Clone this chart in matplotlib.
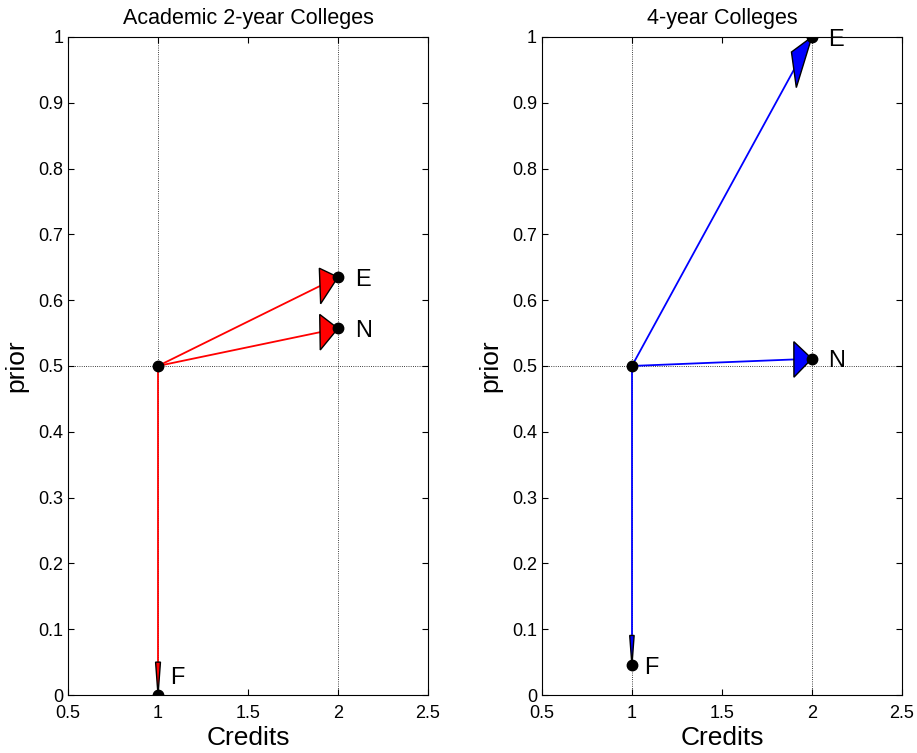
import numpy as np
import matplotlib
matplotlib.use("Agg")
import matplotlib.pyplot as plt
from matplotlib.patches import Polygon

plt.rcParams['font.family'] = ['Liberation Sans', 'DejaVu Sans']

# data
titles = ['Academic 2-year Colleges', '4-year Colleges']
colors = ['red', 'blue']
start = (1.0, 0.5)
labels = ['E', 'N', 'F']
end_x = [[2.0, 2.0, 1.0], [2.0, 2.0, 1.0]]
end_y = [[0.635, 0.557, 0.0], [1.0, 0.511, 0.045]]
xticks = [0.5, 1, 1.5, 2, 2.5]
yticks = np.round(np.arange(0, 1.01, 0.1), 1)
ytick_labels = ['0', '0.1', '0.2', '0.3', '0.4', '0.5', '0.6', '0.7', '0.8', '0.9', '1']

# matlab style head size (data units, relative to arrow length)
alpha = 0.1
beta = 0.27

fig = plt.figure(figsize=(9.17, 7.53), dpi=100)
axes = [fig.add_axes([0.0742, 0.077, 0.3925, 0.874]),
        fig.add_axes([0.591, 0.077, 0.3925, 0.874])]

for k, ax in enumerate(axes):
    ax.axvline(1, color='black', ls=':', lw=0.6, zorder=1)
    ax.axvline(2, color='black', ls=':', lw=0.6, zorder=1)
    ax.axhline(0.5, color='black', ls=':', lw=0.6, zorder=1)

    x0, y0 = start
    for lab, x1, y1 in zip(labels, end_x[k], end_y[k]):
        u, v = x1 - x0, y1 - y0
        ax.plot([x0, x1], [y0, y1], color=colors[k], lw=1.3, zorder=3)
        head = [(x1 - alpha * (u + beta * v), y1 - alpha * (v - beta * u)),
                (x1, y1),
                (x1 - alpha * (u - beta * v), y1 - alpha * (v + beta * u))]
        ax.add_patch(Polygon(head, closed=True, fc=colors[k], ec='black',
                             lw=1.0, zorder=4))
        ax.plot(x1, y1, 'o', color='black', ms=7.5, zorder=5)
        dy = 12 if y1 < 0.02 else -2
        dx = 9 if lab == 'F' else 12
        ax.annotate(lab, (x1, y1), xytext=(dx, dy), textcoords='offset points',
                    ha='left', va='center', fontsize=17)
    ax.plot(x0, y0, 'o', color='black', ms=7.5, zorder=5)

    ax.set_xlim(0.5, 2.5)
    ax.set_ylim(0, 1)
    ax.set_xticks(xticks)
    ax.set_xticklabels(['0.5', '1', '1.5', '2', '2.5'])
    ax.set_yticks(yticks)
    ax.set_yticklabels(ytick_labels)
    ax.tick_params(direction='in', top=True, right=True, length=4,
                   labelsize=13, width=0.8)
    ax.tick_params(axis='x', pad=7)
    ax.tick_params(axis='y', pad=3.5)
    for s in ax.spines.values():
        s.set_linewidth(0.8)
    ax.set_title(titles[k], fontsize=15.5, pad=9)
    ax.set_xlabel('Credits', fontsize=19, labelpad=3)
    ax.set_ylabel('prior', fontsize=19, labelpad=7)

fig.savefig('out.png', dpi=100)
